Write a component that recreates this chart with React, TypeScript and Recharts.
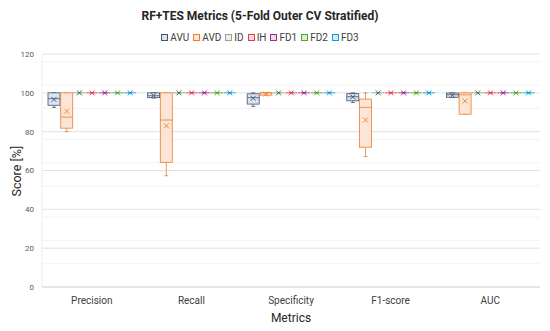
import React from 'react';
import { ComposedChart, Bar, XAxis, YAxis, CartesianGrid } from 'recharts';

// stats per metric: [min, q1, median, q3, max, mean]
const categories = ['Precision', 'Recall', 'Specificity', 'F1-score', 'AUC'];

const avu = [
  [92.5, 93.6, 97, 100, 100, 96.6],
  [97.3, 97.5, 98.5, 100, 100, 98.6],
  [93, 94.2, 97.5, 99.5, 100, 97.2],
  [95, 95.9, 98, 99.6, 100, 97.9],
  [97.7, 97.7, 99, 99.9, 100, 98.7],
];
const avd = [
  [80, 81.8, 87.5, 100, 100, 90.5],
  [57.3, 64.2, 86, 100, 100, 83],
  [98.8, 98.8, 100, 100, 100, 99.4],
  [67.2, 72, 92.5, 96.8, 100, 86],
  [89, 89, 99, 100, 100, 95.8],
];
const id = [
  [100, 100, 100, 100, 100, 100],
  [100, 100, 100, 100, 100, 100],
  [100, 100, 100, 100, 100, 100],
  [100, 100, 100, 100, 100, 100],
  [100, 100, 100, 100, 100, 100],
];
const ih = id;
const fd1 = id;
const fd2 = id;
const fd3 = id;

const yTicks = [0, 20, 40, 60, 80, 100, 120];
const minorTicks = [4, 8, 12, 16, 24, 28, 32, 36, 44, 48, 52, 56, 64, 68, 72, 76, 84, 88, 92, 96, 104, 108, 112, 116];

const series = [
  { key: 'AVU', stats: avu, stroke: '#44546A', fill: '#DAE3F3', mark: '#44546A' },
  { key: 'AVD', stats: avd, stroke: '#ED7D31', fill: '#FBE5D6', mark: '#ED7D31' },
  { key: 'ID', stats: id, stroke: '#8FA58F', fill: '#EDEDED', mark: '#3E6B45' },
  { key: 'IH', stats: ih, stroke: '#E8384F', fill: '#FADBD8', mark: '#E8384F' },
  { key: 'FD1', stats: fd1, stroke: '#A02B93', fill: '#F1D6EC', mark: '#A02B93' },
  { key: 'FD2', stats: fd2, stroke: '#4EA72E', fill: '#DCEFD5', mark: '#4EA72E' },
  { key: 'FD3', stats: fd3, stroke: '#0F9ED5', fill: '#D3ECF7', mark: '#0F9ED5' },
];

const data = categories.map((name, i) => {
  const row: any = { name };
  series.forEach((s) => {
    row[s.key] = s.stats[i];
  });
  return row;
});

const makeBox = (key: string, stroke: string, fill: string, mark: string) => (props: any) => {
  const { x, y, width, height, payload } = props;
  const st = payload[key];
  const max = st[4];
  const bottom = y + height;
  const py = (v: number) => bottom - (v / max) * height;
  const cx = x + width / 2;
  const top = py(st[3]);
  const low = py(st[1]);
  const m = 2.5;
  const my = py(st[5]);
  return (
    <g>
      <line x1={cx} x2={cx} y1={py(st[4])} y2={top} stroke={stroke} strokeWidth={0.8} />
      <line x1={cx} x2={cx} y1={low} y2={py(st[0])} stroke={stroke} strokeWidth={0.8} />
      <line x1={cx - 2} x2={cx + 2} y1={py(st[4])} y2={py(st[4])} stroke={stroke} strokeWidth={0.8} />
      <line x1={cx - 2} x2={cx + 2} y1={py(st[0])} y2={py(st[0])} stroke={stroke} strokeWidth={0.8} />
      <rect x={x} y={top} width={width} height={Math.max(low - top, 0)} fill={fill} stroke={stroke} strokeWidth={0.8} />
      <line x1={x} x2={x + width} y1={py(st[2])} y2={py(st[2])} stroke={stroke} strokeWidth={0.8} />
      <line x1={cx - m} x2={cx + m} y1={my - m} y2={my + m} stroke={mark} strokeWidth={0.9} />
      <line x1={cx - m} x2={cx + m} y1={my + m} y2={my - m} stroke={mark} strokeWidth={0.9} />
    </g>
  );
};

export default function App() {
  const font = 'Roboto, "Noto Sans", sans-serif';
  return (
    <div style={{ position: 'absolute', left: 0, top: 0, width: 550, height: 331, background: '#fff', fontFamily: font }}>
      <div style={{ position: 'absolute', top: 9, left: 0, width: 520, textAlign: 'center', fontSize: 12, fontWeight: 700, color: '#262626' }}>
        RF+TES Metrics (5-Fold Outer CV Stratified)
      </div>
      <div style={{ position: 'absolute', top: 32, left: 0, width: 524, display: 'flex', justifyContent: 'center', fontSize: 10, color: '#404040' }}>
        {series.map((s) => (
          <span key={s.key} style={{ display: 'flex', alignItems: 'center', marginRight: 4 }}>
            <span style={{ width: 5, height: 5, border: `1px solid ${s.stroke}`, background: s.fill, marginRight: 2 }} />
            {s.key}
          </span>
        ))}
      </div>
      <ComposedChart
        width={550}
        height={331}
        data={data}
        margin={{ top: 54, right: 10, bottom: 0, left: 22 }}
        barSize={12}
        barGap={0.7}
      >
        <CartesianGrid vertical={false} horizontalValues={minorTicks} stroke="#EFEFEF" strokeWidth={0.8} />
        <CartesianGrid vertical={false} horizontalValues={yTicks} stroke="#D9D9D9" strokeWidth={0.8} />
        <XAxis
          dataKey="name"
          height={44}
          tickLine={false}
          axisLine={{ stroke: '#D9D9D9' }}
          tick={{ fontSize: 10, fill: '#404040', fontFamily: font }}
          tickMargin={4}
          label={{ value: 'Metrics', position: 'insideBottom', offset: 9, fontSize: 12, fill: '#262626', fontFamily: font }}
        />
        <YAxis
          width={20}
          domain={[0, 120]}
          ticks={yTicks}
          tickLine={false}
          axisLine={{ stroke: '#EDEDED' }}
          tick={{ fontSize: 8, fill: '#595959', fontFamily: font }}
          tickMargin={2}
          label={{ value: 'Score [%]', angle: -90, position: 'insideLeft', offset: -5, dy: 26, fontSize: 12.5, fill: '#262626', fontFamily: font }}
        />
        {series.map((s) => (
          <Bar
            key={s.key}
            dataKey={(d: any) => d[s.key][4]}
            name={s.key}
            shape={makeBox(s.key, s.stroke, s.fill, s.mark)}
            isAnimationActive={false}
          />
        ))}
      </ComposedChart>
    </div>
  );
}
